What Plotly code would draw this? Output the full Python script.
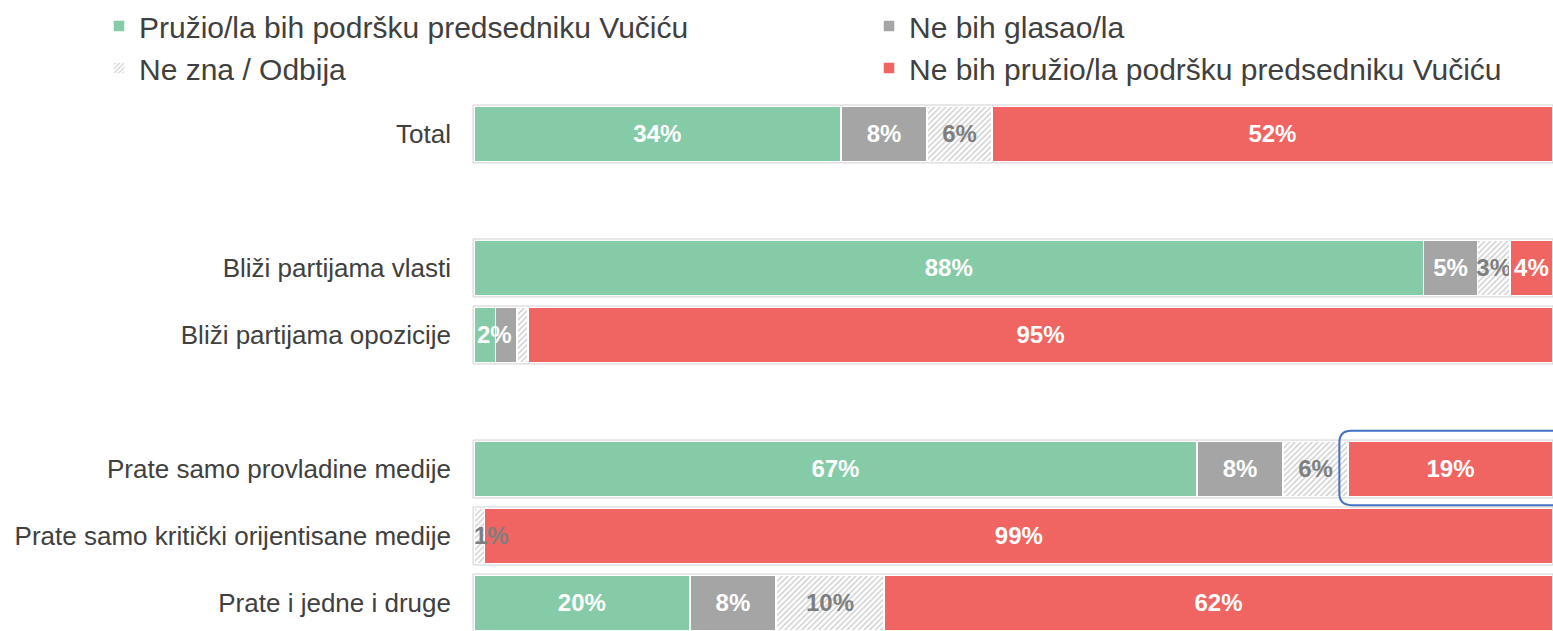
import plotly.graph_objects as go

categories = ["Total", " ", "Bliži partijama vlasti", "Bliži partijama opozicije", "  ",
              "Prate samo provladine medije", "Prate samo kritički orijentisane medije",
              "Prate i jedne i druge"]
support = [34, None, 88, 2, None, 67, 0, 20]
no_vote = [8, None, 5, 2, None, 8, 0, 8]
dont_know = [6, None, 3, 1, None, 6, 1, 10]
no_support = [52, None, 4, 95, None, 19, 99, 62]
# which labels are shown in the original (small segments hidden)
show_support = [1, 0, 1, 1, 0, 1, 0, 1]
show_no_vote = [1, 0, 1, 0, 0, 1, 0, 1]
show_dont_know = [1, 0, 1, 0, 0, 1, 1, 1]
show_no_support = [1, 0, 1, 1, 0, 1, 1, 1]

names = ["Pružio/la bih podršku predsedniku Vučiću", "Ne bih glasao/la",
         "Ne zna / Odbija", "Ne bih pružio/la podršku predsedniku Vučiću"]
colors = ["#86CBA7", "#A5A5A5", "#FFFFFF", "#F06461"]
text_colors = ["white", "white", "#7F7F7F", "white"]
legend_ids = ["legend", "legend2", "legend", "legend2"]

series = [support, no_vote, dont_know, no_support]
shows = [show_support, show_no_vote, show_dont_know, show_no_support]

BARGAP = 0.16
fig = go.Figure()
annotations = []
for i, (vals, show) in enumerate(zip(series, shows)):
    txt = []
    for r, (v, s) in enumerate(zip(vals, show)):
        if v is None or not s:
            txt.append("")
        elif v <= 2:
            # tiny segment: label drawn on top, starting at the segment
            txt.append("")
            start = sum(series[k][r] for k in range(i))
            annotations.append(dict(
                x=start, y=categories[r], xref="x", yref="y", text=f"{v}%",
                showarrow=False, xanchor="left", yanchor="middle",
                xshift=1 if i == 0 else -2,
                font=dict(family="Liberation Sans", size=24, color=text_colors[i], weight="bold")))
        else:
            txt.append(f"{v}%")
    marker = dict(color=colors[i], line=dict(color="white", width=1.5))
    if i == 2:
        marker["pattern"] = dict(shape="/", fgcolor="#999999", bgcolor="white", size=4, solidity=0.35)
    fig.add_trace(go.Bar(
        y=categories, x=vals, name=names[i], orientation="h",
        legend=legend_ids[i], legendgroup=f"g{i}",
        marker=marker, text=txt, textposition="inside", insidetextanchor="middle",
        constraintext="none", textangle=0, cliponaxis=False,
        textfont=dict(family="Liberation Sans", size=24, color=text_colors[i], weight="bold"),
        hoverinfo="skip",
    ))

# light grey outline around each whole bar
half = (1 - BARGAP) / 2 + 0.012
for r, cat in enumerate(categories):
    if support[r] is None:
        continue
    total = support[r] + no_vote[r] + dont_know[r] + no_support[r]
    fig.add_shape(type="rect", xref="x", yref="y", x0=-0.08, x1=total,
                  y0=r - half, y1=r + half, line=dict(color="#D0D0D0", width=1),
                  fillcolor="rgba(0,0,0,0)", layer="above")

# highlight box around the red segment for "Prate samo provladine medije"
row = categories.index("Prate samo provladine medije")
x0 = support[row] + no_vote[row] + dont_know[row] - 0.8
x1 = 101.5
y0 = row - 0.57
y1 = row + 0.54
rx, ry = 1.1, 0.18
path = (f"M {x0+rx},{y0} L {x1-rx},{y0} Q {x1},{y0} {x1},{y0+ry} "
        f"L {x1},{y1-ry} Q {x1},{y1} {x1-rx},{y1} L {x0+rx},{y1} "
        f"Q {x0},{y1} {x0},{y1-ry} L {x0},{y0+ry} Q {x0},{y0} {x0+rx},{y0} Z")
fig.add_shape(type="path", path=path, xref="x", yref="y",
              line=dict(color="#4472C4", width=2), fillcolor="rgba(0,0,0,0)")

legend_common = dict(orientation="v", xref="container", yref="container",
                     yanchor="top", xanchor="left", itemwidth=30,
                     tracegroupgap=0, bgcolor="rgba(0,0,0,0)",
                     font=dict(size=30, color="#404040", family="Liberation Sans"))

fig.update_layout(
    width=1553, height=631,
    barmode="stack", bargap=BARGAP,
    plot_bgcolor="white", paper_bgcolor="white",
    margin=dict(l=472, r=0, t=100, b=0, autoexpand=False),
    font=dict(family="Liberation Sans", color="#404040"),
    showlegend=True,
    annotations=annotations,
    legend=dict(x=99 / 1553, y=1.0 + 8 / 631, **legend_common),
    legend2=dict(x=869 / 1553, y=1.0 + 8 / 631, **legend_common),
    xaxis=dict(range=[-0.18, 100], visible=False, fixedrange=True),
    yaxis=dict(type="category", categoryorder="array", categoryarray=categories,
               range=[7.418, -0.507], showgrid=False, zeroline=False,
               ticks="", ticklabelstandoff=20,
               tickfont=dict(size=26, color="#404040")),
)

fig.write_html("out.html", config={"displayModeBar": False},
               post_script="document.body.style.margin='0';document.body.style.overflow='hidden';")
